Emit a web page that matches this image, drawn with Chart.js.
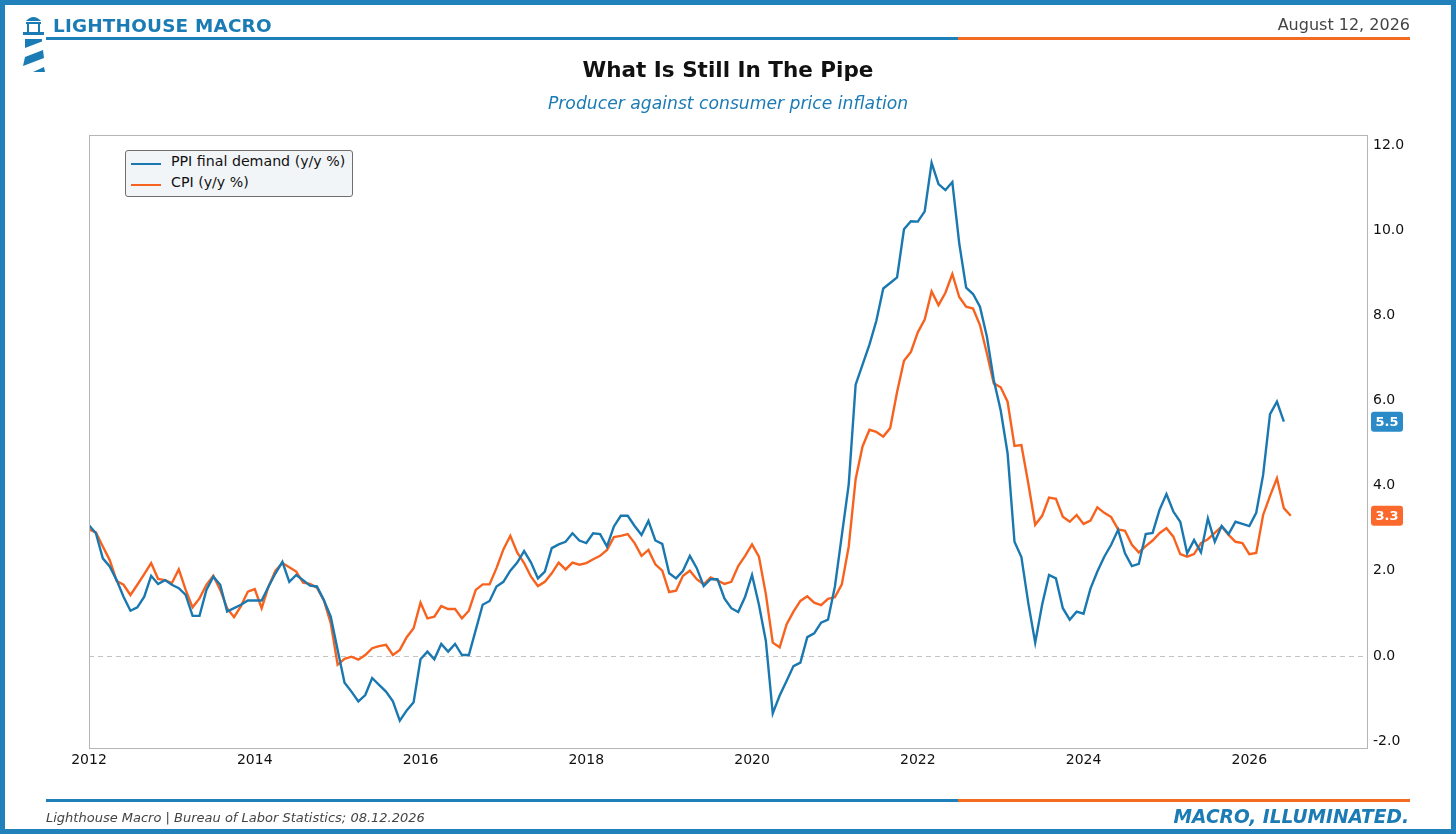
<!DOCTYPE html>
<html>
<head>
<meta charset="utf-8">
<script src="https://cdn.jsdelivr.net/npm/chart.js@4.4.1/dist/chart.umd.min.js"></script>
<style>
  html, body { margin: 0; padding: 0; background: #fff; }
  #page { position: relative; width: 1456px; height: 834px; overflow: hidden; background: #fff; font-family: "DejaVu Sans", sans-serif; }
  #frame { position: absolute; left: 0; top: 0; width: 1456px; height: 834px; box-sizing: border-box; border: 5px solid #2181ba; pointer-events: none; z-index: 5; }
  #chartCanvas { position: absolute; left: 0; top: 0; }
  .abs { position: absolute; white-space: nowrap; }
  #brand { left: 53px; top: 15px; font-size: 18.4px; font-weight: bold; color: #1b7bb4; letter-spacing: 0.2px; }
  #date { right: 46px; top: 15px; font-size: 16px; color: #444; }
  #title { left: 0; width: 1456px; text-align: center; top: 57px; font-size: 21.5px; font-weight: bold; color: #111; }
  #subtitle { left: 0; width: 1456px; text-align: center; top: 93px; font-size: 17.2px; font-style: italic; color: #1b7bb4; }
  .rule { position: absolute; height: 3px; }
  #legend { left: 125px; top: 150px; width: 226px; height: 45px; background: #f2f5f8; border: 1px solid #6f6f6f; border-radius: 3px; z-index: 3; }
  .legItem { position: absolute; left: 0; font-size: 14.2px; color: #111; }
  .legLine { position: absolute; left: 5px; width: 30px; height: 2px; }
  .legText { position: absolute; left: 45px; }
  #source { left: 46px; top: 810px; font-size: 13px; font-style: italic; color: #444; }
  #tagline { right: 47px; top: 806px; font-size: 18.6px; font-style: italic; font-weight: bold; color: #1b7bb4; }
</style>
</head>
<body>
<div id="page">
  <canvas id="chartCanvas" width="1456" height="834"></canvas>

  <svg class="abs" style="left:0;top:0" width="60" height="80" viewBox="0 0 60 80">
    <g fill="#1b7bb4">
      <path d="M26 21 Q33.5 13 41 21 Z"/>
      <rect x="26" y="22" width="15" height="2"/>
      <rect x="27" y="22" width="2" height="10"/>
      <rect x="38" y="22" width="2" height="10"/>
      <rect x="23" y="32" width="21" height="3"/>
      <polygon points="25,39 42,39 42,41.5 25,48"/>
      <polygon points="25,57 43,50 44,58 23,66"/>
      <polygon points="33,72 44,67 45,72"/>
    </g>
  </svg>
  <div id="brand" class="abs">LIGHTHOUSE MACRO</div>
  <div id="date" class="abs">August 12, 2026</div>
  <div class="rule" style="left:46px;top:37px;width:912px;background:#1f7fb8"></div>
  <div class="rule" style="left:958px;top:37px;width:452px;background:#f36a21"></div>

  <div id="title" class="abs">What Is Still In The Pipe</div>
  <div id="subtitle" class="abs">Producer against consumer price inflation</div>

  <div id="legend" class="abs">
    <div class="legItem" style="top:2px;width:226px;height:20px">
      <div class="legLine" style="top:10px;background:#1a78b0"></div>
      <div class="legText" style="top:0px">PPI final demand (y/y %)</div>
    </div>
    <div class="legItem" style="top:23px;width:226px;height:20px">
      <div class="legLine" style="top:10px;background:#f7631f"></div>
      <div class="legText" style="top:0px">CPI (y/y %)</div>
    </div>
  </div>

  <div class="rule" style="left:46px;top:799px;width:912px;background:#1f7fb8"></div>
  <div class="rule" style="left:958px;top:799px;width:452px;background:#f36a21"></div>
  <div id="source" class="abs">Lighthouse Macro | Bureau of Labor Statistics; 08.12.2026</div>
  <div id="tagline" class="abs">MACRO, ILLUMINATED.</div>

  <div id="frame"></div>
</div>

<script>
// ---- Data (monthly, starting January 2012) ----
const startYear = 2012;
const seriesNames = ['PPI final demand (y/y %)', 'CPI (y/y %)'];

const ppiValues = [
  3.07, 2.88, 2.29, 2.10, 1.78, 1.39, 1.06, 1.14, 1.39, 1.88, 1.69, 1.78,
  1.67, 1.59, 1.43, 0.94, 0.94, 1.55, 1.86, 1.67, 1.04, 1.12, 1.20, 1.30,
  1.30, 1.30, 1.63, 1.94, 2.21, 1.74, 1.90, 1.78, 1.65, 1.63, 1.31, 0.92,
  0.14, -0.63, -0.84, -1.07, -0.92, -0.52, -0.68, -0.84, -1.07, -1.52, -1.28, -1.09,
  -0.08, 0.10, -0.08, 0.28, 0.10, 0.28, 0.02, 0.02, 0.61, 1.20, 1.29, 1.63,
  1.74, 2.00, 2.19, 2.46, 2.19, 1.82, 1.98, 2.53, 2.62, 2.68, 2.88, 2.71,
  2.65, 2.88, 2.86, 2.57, 3.04, 3.29, 3.29, 3.05, 2.84, 3.17, 2.71, 2.63,
  1.94, 1.82, 2.00, 2.35, 2.06, 1.64, 1.80, 1.80, 1.35, 1.12, 1.03, 1.39,
  1.90, 1.20, 0.35, -1.35, -0.93, -0.59, -0.24, -0.16, 0.44, 0.53, 0.78, 0.85,
  1.63, 2.83, 4.03, 6.37, 6.84, 7.31, 7.87, 8.63, 8.76, 8.89, 10.02, 10.21,
  10.20, 10.44, 11.58, 11.08, 10.94, 11.13, 9.69, 8.65, 8.50, 8.20, 7.50, 6.48,
  5.77, 4.76, 2.68, 2.32, 1.24, 0.31, 1.20, 1.90, 1.82, 1.12, 0.85, 1.04,
  0.99, 1.58, 1.98, 2.33, 2.61, 2.96, 2.41, 2.11, 2.16, 2.86, 2.89, 3.43,
  3.80, 3.39, 3.15, 2.41, 2.72, 2.43, 3.23, 2.68, 3.05, 2.86, 3.15, 3.10,
  3.05, 3.36, 4.25, 5.68, 5.97, 5.50
];

const cpiValues = [
  2.97, 2.90, 2.57, 2.25, 1.76, 1.67, 1.43, 1.67, 1.92, 2.18, 1.81, 1.78,
  1.71, 2.03, 1.55, 1.14, 1.35, 1.67, 1.88, 1.55, 1.12, 0.91, 1.17, 1.51,
  1.57, 1.12, 1.63, 2.00, 2.18, 2.08, 1.98, 1.72, 1.69, 1.60, 1.31, 0.77,
  -0.21, -0.07, -0.02, -0.09, 0.02, 0.18, 0.23, 0.26, 0.02, 0.14, 0.44, 0.65,
  1.25, 0.88, 0.92, 1.17, 1.10, 1.10, 0.88, 1.06, 1.55, 1.68, 1.68, 2.06,
  2.50, 2.82, 2.43, 2.18, 1.86, 1.64, 1.74, 1.94, 2.19, 2.03, 2.19, 2.14,
  2.18, 2.27, 2.35, 2.49, 2.79, 2.82, 2.86, 2.65, 2.35, 2.49, 2.15, 2.00,
  1.50, 1.53, 1.88, 2.00, 1.80, 1.68, 1.84, 1.77, 1.69, 1.74, 2.11, 2.35,
  2.62, 2.33, 1.45, 0.31, 0.20, 0.74, 1.04, 1.29, 1.40, 1.25, 1.19, 1.34,
  1.38, 1.68, 2.57, 4.15, 4.92, 5.31, 5.26, 5.15, 5.35, 6.20, 6.93, 7.14,
  7.60, 7.90, 8.56, 8.24, 8.53, 8.97, 8.43, 8.20, 8.16, 7.77, 7.11, 6.40,
  6.31, 5.97, 4.93, 4.95, 4.05, 3.08, 3.29, 3.72, 3.69, 3.27, 3.15, 3.31,
  3.10, 3.18, 3.49, 3.36, 3.26, 2.97, 2.94, 2.61, 2.43, 2.58, 2.71, 2.88,
  3.00, 2.80, 2.39, 2.33, 2.39, 2.65, 2.74, 2.89, 3.04, 2.84, 2.68, 2.65,
  2.39, 2.42, 3.31, 3.76, 4.17, 3.47, 3.29
];

const xTickYears = [2012, 2014, 2016, 2018, 2020, 2022, 2024, 2026];
const yTickValues = [-2, 0, 2, 4, 6, 8, 10, 12];

// ---- Styles ----
const ppiColor = '#1a78b0';
const cpiColor = '#f7631f';
const ppiBadge = '#2a8bc8';
const cpiBadge = '#fb6a2c';

const toPoints = vals => vals.map((v, i) => ({ x: startYear + i / 12, y: v }));

const framePlugin = {
  id: 'frameAndExtras',
  beforeDatasetsDraw(chart) {
    const { ctx, chartArea: a, scales: { y } } = chart;
    ctx.save();
    const y0 = y.getPixelForValue(0);
    ctx.strokeStyle = '#c4c4c4';
    ctx.lineWidth = 1;
    ctx.setLineDash([5, 4]);
    ctx.beginPath();
    ctx.moveTo(a.left, Math.round(y0) + 0.5);
    ctx.lineTo(a.right, Math.round(y0) + 0.5);
    ctx.stroke();
    ctx.restore();
  },
  afterDraw(chart) {
    const { ctx, chartArea: a, scales: { y } } = chart;
    ctx.save();
    ctx.strokeStyle = '#b5b5b5';
    ctx.lineWidth = 1;
    ctx.strokeRect(Math.round(a.left) + 0.5, Math.round(a.top) + 0.5,
                   Math.round(a.right - a.left), Math.round(a.bottom - a.top));
    const items = [
      { v: ppiValues[ppiValues.length - 1], c: ppiBadge },
      { v: cpiValues[cpiValues.length - 1], c: cpiBadge }
    ];
    ctx.font = 'bold 13px "DejaVu Sans"';
    ctx.textAlign = 'center';
    ctx.textBaseline = 'middle';
    items.forEach(it => {
      const py = y.getPixelForValue(it.v);
      const bx = a.right + 4, bw = 32, bh = 20;
      ctx.fillStyle = it.c;
      ctx.beginPath();
      ctx.roundRect(bx, py - bh / 2, bw, bh, 3);
      ctx.fill();
      ctx.fillStyle = '#ffffff';
      ctx.fillText(it.v.toFixed(1), bx + bw / 2, py + 1);
    });
    ctx.restore();
  }
};

new Chart(document.getElementById('chartCanvas'), {
  type: 'line',
  data: {
    datasets: [
      { label: seriesNames[0], data: toPoints(ppiValues), borderColor: ppiColor, borderWidth: 2.4,
        pointRadius: 0, tension: 0, fill: false },
      { label: seriesNames[1], data: toPoints(cpiValues), borderColor: cpiColor, borderWidth: 2.4,
        pointRadius: 0, tension: 0, fill: false }
    ]
  },
  options: {
    responsive: false,
    animation: false,
    devicePixelRatio: 1,
    layout: { padding: { left: 89, top: 135, right: 29, bottom: 46 } },
    plugins: { legend: { display: false }, tooltip: { enabled: false } },
    scales: {
      x: {
        type: 'linear',
        min: 2012,
        max: 2027.42,
        grid: { display: false, drawTicks: false },
        border: { display: false },
        afterBuildTicks: s => { s.ticks = xTickYears.map(v => ({ value: v })); },
        afterFit: s => { s.height = 40; },
        ticks: {
          padding: 4,
          color: '#111',
          font: { family: 'DejaVu Sans', size: 14 },
          maxRotation: 0,
          callback: v => String(v)
        }
      },
      y: {
        type: 'linear',
        position: 'right',
        min: -2.164,
        max: 12.235,
        grid: { display: false, drawTicks: false },
        border: { display: false },
        afterBuildTicks: s => { s.ticks = yTickValues.map(v => ({ value: v })); },
        afterFit: s => { s.width = 60; },
        ticks: {
          padding: 6,
          color: '#111',
          font: { family: 'DejaVu Sans', size: 14 },
          callback: v => Number(v).toFixed(1)
        }
      }
    }
  },
  plugins: [framePlugin]
});
</script>
</body>
</html>
